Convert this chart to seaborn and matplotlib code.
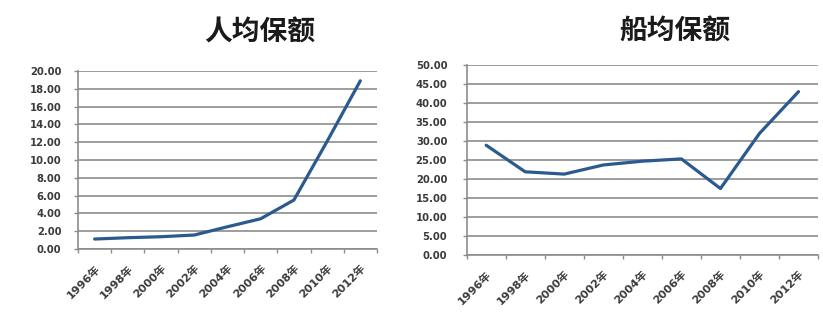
import matplotlib
matplotlib.use("Agg")
import matplotlib.pyplot as plt
import seaborn as sns
import pandas as pd
import numpy as np

years = ["1996年", "1998年", "2000年", "2002年", "2004年", "2006年", "2008年", "2010年", "2012年"]
per_capita = [1.12, 1.27, 1.38, 1.57, 2.5, 3.4, 5.5, 12.1, 18.9]
per_ship = [28.9, 21.9, 21.3, 23.7, 24.7, 25.3, 17.5, 32.0, 43.0]
left_title = "人均保额"
right_title = "船均保额"

sns.set_theme(style="white")
plt.rcParams['font.family'] = ['DejaVu Sans', 'Noto Sans CJK SC']

fig = plt.figure(figsize=(8.23, 3.22), dpi=100)
ax1 = fig.add_axes([0.0948, 0.2267, 0.458 - 0.0948, 0.7795 - 0.2267])
ax2 = fig.add_axes([0.567, 0.208, 0.994 - 0.567, 0.798 - 0.208])

line_color = "#2B5A8E"
grid_color = "#8C8C8C"
label_color = "#3a3a3a"

def draw(ax, vals, ymax, step, title, title_x, title_y, ypad):
    df = pd.DataFrame({"year": years, "value": vals})
    sns.lineplot(data=df, x="year", y="value", ax=ax, color=line_color, linewidth=2.3, sort=False)
    ax.set_xlim(-0.5, len(years) - 0.5)
    ax.set_ylim(0, ymax)
    yt = np.arange(0, ymax + step / 2, step)
    ax.set_yticks(yt)
    ax.set_yticklabels([f"{v:.2f}" for v in yt], fontsize=7.2, fontweight="bold", color=label_color)
    ax.set_xticks(range(len(years)))
    ax.set_xticklabels(years, rotation=45, ha="right", rotation_mode="anchor",
                       fontsize=8, fontweight="bold", color=label_color,
                       family=['DejaVu Sans', 'Noto Sans CJK SC'])
    ax.set_xticks(np.arange(-0.5, len(years), 1.0), minor=True)
    ax.tick_params(axis="x", which="major", length=0, pad=10)
    ax.tick_params(axis="x", which="minor", length=3, color=grid_color, width=1.0, direction="out", bottom=True)
    ax.tick_params(axis="y", length=3, color=grid_color, width=1.0, direction="out", left=True, pad=ypad)
    ax.yaxis.grid(True, color=grid_color, linewidth=1.2)
    ax.set_axisbelow(True)
    for s in ["top", "right"]:
        ax.spines[s].set_visible(False)
    for s in ["left", "bottom"]:
        ax.spines[s].set_color(grid_color)
        ax.spines[s].set_linewidth(1.2)
    ax.set_xlabel("")
    ax.set_ylabel("")
    fig.text(title_x, title_y, title, ha="center", va="center", fontsize=20, fontweight="bold",
             color="#1a1a1a", family=['Noto Sans CJK SC', 'DejaVu Sans'])

draw(ax1, per_capita, 20, 2, left_title, 260 / 823, 1 - 33 / 322, 9)
draw(ax2, per_ship, 50, 5, right_title, 675 / 823, 1 - 32 / 322, 11)

fig.savefig("out.png", dpi=100)
